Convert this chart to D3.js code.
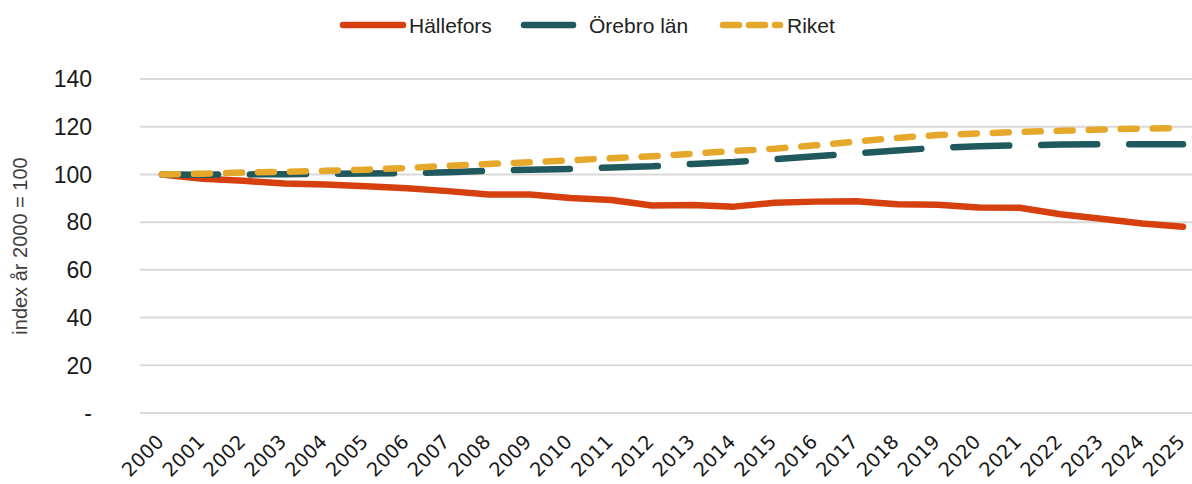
<!DOCTYPE html>
<html lang="sv">
<head>
  <meta charset="UTF-8">
  <title>Befolkningsutveckling</title>
  <script src="https://d3js.org/d3.v7.min.js"></script>
  <style>
    body { margin: 0; background: #fff; }
    svg { display: block; }
  </style>
</head>
<body>
  <div id="chart"></div>
  <script>
    const years = d3.range(2000, 2026)
    const hallefors = [100, 98.2, 97.3, 96.2, 95.8, 95.0, 94.2, 93.0, 91.6, 91.6, 90.1, 89.3, 87.0,
      87.2, 86.5, 88.1, 88.6, 88.8, 87.5, 87.3, 86.1, 86.0, 83.3, 81.4, 79.4, 78.1]
    const orebro = [100, 99.9, 100.0, 100.1, 100.2, 100.4, 100.5, 100.9, 101.5, 102.0, 102.3, 102.9, 103.4,
      104.4, 105.2, 106.4, 107.6, 108.8, 110.0, 111.2, 111.8, 112.2, 112.5, 112.7, 112.7, 112.7]
    const riket = [100, 100.3, 100.8, 101.1, 101.5, 102.0, 102.7, 103.6, 104.4, 105.1, 105.9, 106.8, 107.6,
      108.7, 109.8, 110.8, 112.2, 113.8, 115.3, 116.5, 117.2, 117.8, 118.3, 118.8, 119.2, 119.4]
    const yTicks = [0, 20, 40, 60, 80, 100, 120, 140]

    const series = [
      { name: 'Hällefors', values: hallefors, color: '#d6400f', dash: null },
      { name: 'Örebro län', values: orebro, color: '#1f585d', dash: '56,32' },
      { name: 'Riket', values: riket, color: '#e6a82b', dash: '16,16' }
    ]

    const width = 1192
    const height = 484

    const svg = d3.select('#chart').append('svg')
      .attr('width', width)
      .attr('height', height)

    const x = d3.scalePoint()
      .domain(years)
      .range([162, 1183])

    const y = d3.scaleLinear()
      .domain([0, 140])
      .range([413, 79])

    // gridlines
    svg.append('g')
      .selectAll('line')
      .data(yTicks)
      .enter()
      .append('line')
      .attr('x1', 140)
      .attr('x2', width)
      .attr('y1', d => y(d))
      .attr('y2', d => y(d))
      .attr('stroke', '#d9d9d9')
      .attr('stroke-width', 2)

    // y tick labels
    svg.append('g')
      .selectAll('text')
      .data(yTicks)
      .enter()
      .append('text')
      .attr('x', 92)
      .attr('y', d => y(d))
      .attr('dy', '0.36em')
      .attr('text-anchor', 'end')
      .style('font-family', 'Liberation Sans, Arial, sans-serif')
      .style('font-size', '23px')
      .attr('fill', '#1a1a1a')
      .text(d => d === 0 ? '-' : d)

    // y title
    svg.append('text')
      .attr('transform', `translate(27, ${y(70)}) rotate(-90)`)
      .attr('text-anchor', 'middle')
      .style('font-family', 'Liberation Sans, Arial, sans-serif')
      .style('font-size', '20px')
      .attr('fill', '#404040')
      .text('index år 2000 = 100')

    // x tick labels
    svg.append('g')
      .selectAll('text')
      .data(years)
      .enter()
      .append('text')
      .attr('transform', d => `translate(${x(d) + 3}, 443) rotate(-45)`)
      .attr('text-anchor', 'end')
      .style('font-family', 'DejaVu Sans, sans-serif')
      .style('font-size', '19.5px')
      .attr('fill', '#1a1a1a')
      .text(d => d)

    const line = d3.line()
      .x((d, i) => x(years[i]))
      .y(d => y(d))

    // lines
    svg.append('g')
      .selectAll('path')
      .data(series)
      .enter()
      .append('path')
      .attr('d', d => line(d.values))
      .attr('fill', 'none')
      .attr('stroke', d => d.color)
      .attr('stroke-width', 6.5)
      .attr('stroke-linecap', 'round')
      .attr('stroke-linejoin', 'round')
      .attr('stroke-dasharray', d => d.dash)

    // legend
    const legendPos = [
      { x1: 343, x2: 403, tx: 409 },
      { x1: 524, x2: 573, tx: 589 },
      { x1: 723, x2: 780, tx: 787 }
    ]
    const legend = svg.append('g')
      .selectAll('g')
      .data(series)
      .enter()
      .append('g')

    legend.append('line')
      .attr('x1', (d, i) => legendPos[i].x1)
      .attr('x2', (d, i) => legendPos[i].x2)
      .attr('y1', 25)
      .attr('y2', 25)
      .attr('stroke', d => d.color)
      .attr('stroke-width', 6.5)
      .attr('stroke-linecap', 'round')
      .attr('stroke-dasharray', d => d.name === 'Riket' ? '16,10' : null)

    legend.append('text')
      .attr('x', (d, i) => legendPos[i].tx)
      .attr('y', 33)
      .style('font-family', 'Liberation Sans, Arial, sans-serif')
      .style('font-size', '21px')
      .attr('fill', '#222')
      .text(d => d.name)
  </script>
</body>
</html>
